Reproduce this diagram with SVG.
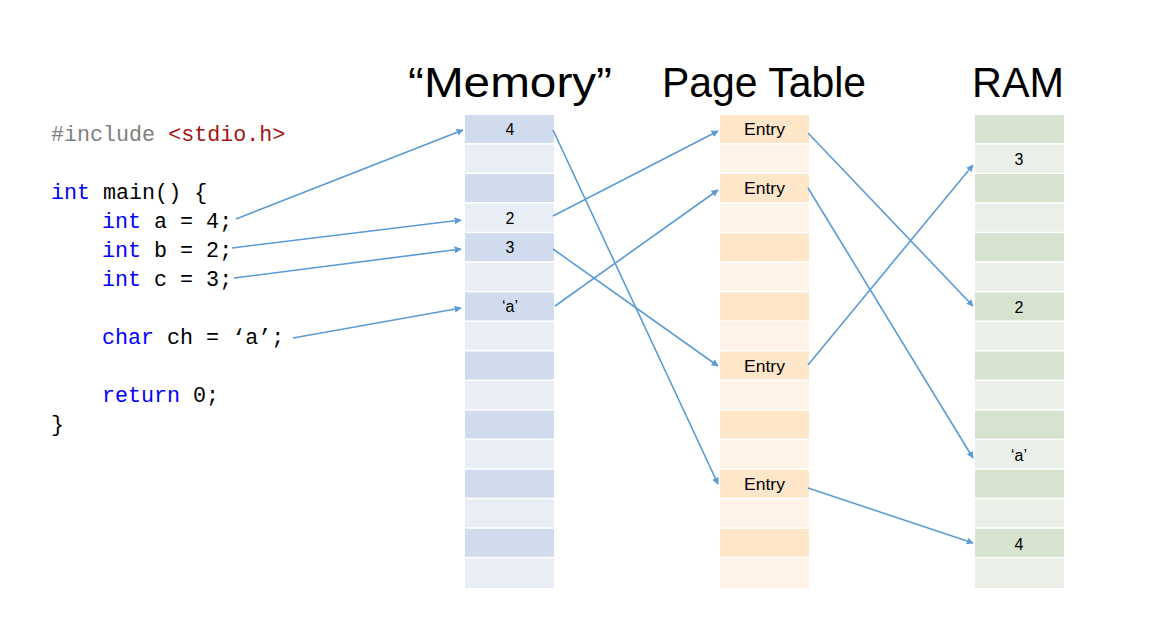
<svg xmlns="http://www.w3.org/2000/svg" width="1152" height="624" viewBox="0 0 1152 624">
<style>
.code{font-family:"Liberation Mono","DejaVu Sans Mono",monospace;font-size:21.7px;fill:#000}
.kw{fill:#0000FF}
.pp{fill:#808080}
.str{fill:#A31515}
.title{font-family:"Liberation Sans",Arial,sans-serif;font-size:43px;fill:#000;text-anchor:middle}
.lbl{font-family:"Liberation Sans",Arial,sans-serif;font-size:16px;fill:#000;text-anchor:middle}
.mD{fill:#D0DCEE}.mL{fill:#E9EEF6}
.pD{fill:#FEE6C8}.pL{fill:#FEF3E6}
.rD{fill:#D6E3CF}.rL{fill:#EAF0E7}
.conn line{stroke:#5B9BD5;stroke-width:1.6;marker-end:url(#ah)}
</style>
<defs>
<marker id="ah" viewBox="0 0 10 10" refX="9" refY="5" markerWidth="7" markerHeight="7" orient="auto" markerUnits="userSpaceOnUse">
<path d="M0,0 L10,5 L0,10 z" fill="#5B9BD5"/>
</marker>
</defs>
<rect width="1152" height="624" fill="#fff"/>

<g id="code">
<text class="code" x="51" y="141"><tspan class="pp">#include </tspan><tspan class="str">&lt;stdio.h&gt;</tspan></text>
<text class="code" x="51" y="199"><tspan class="kw">int</tspan> main() {</text>
<text class="code" x="102" y="228"><tspan class="kw">int</tspan> a = 4;</text>
<text class="code" x="102" y="257"><tspan class="kw">int</tspan> b = 2;</text>
<text class="code" x="102" y="286"><tspan class="kw">int</tspan> c = 3;</text>
<text class="code" x="102" y="344"><tspan class="kw">char</tspan> ch = ‘a’;</text>
<text class="code" x="102" y="402"><tspan class="kw">return</tspan> 0;</text>
<text class="code" x="51" y="431">}</text>
</g>

<g id="titles">
<text class="title" x="510" y="97" textLength="204" lengthAdjust="spacingAndGlyphs">“Memory”</text>
<text class="title" x="764" y="97" textLength="204" lengthAdjust="spacingAndGlyphs">Page Table</text>
<text class="title" x="1018" y="97" textLength="92" lengthAdjust="spacingAndGlyphs">RAM</text>
</g>

<g id="memory">
<rect class="mD" x="465" y="115" width="89" height="28"/>
<rect class="mL" x="465" y="144.6" width="89" height="28"/>
<rect class="mD" x="465" y="174.1" width="89" height="28"/>
<rect class="mL" x="465" y="203.7" width="89" height="28"/>
<rect class="mD" x="465" y="233.2" width="89" height="28"/>
<rect class="mL" x="465" y="262.8" width="89" height="28"/>
<rect class="mD" x="465" y="292.4" width="89" height="28"/>
<rect class="mL" x="465" y="321.9" width="89" height="28"/>
<rect class="mD" x="465" y="351.5" width="89" height="28"/>
<rect class="mL" x="465" y="381" width="89" height="28"/>
<rect class="mD" x="465" y="410.6" width="89" height="28"/>
<rect class="mL" x="465" y="440.2" width="89" height="28"/>
<rect class="mD" x="465" y="469.7" width="89" height="28"/>
<rect class="mL" x="465" y="499.3" width="89" height="28"/>
<rect class="mD" x="465" y="528.8" width="89" height="28"/>
<rect class="mL" x="465" y="558.4" width="89" height="29.6"/>
<text class="lbl" x="510" y="135">4</text>
<text class="lbl" x="510" y="224">2</text>
<text class="lbl" x="510" y="253">3</text>
<text class="lbl" x="510" y="312">‘a’</text>
</g>

<g id="pagetable">
<rect class="pD" x="720" y="115" width="89" height="28"/>
<rect class="pL" x="720" y="144.6" width="89" height="28"/>
<rect class="pD" x="720" y="174.1" width="89" height="28"/>
<rect class="pL" x="720" y="203.7" width="89" height="28"/>
<rect class="pD" x="720" y="233.2" width="89" height="28"/>
<rect class="pL" x="720" y="262.8" width="89" height="28"/>
<rect class="pD" x="720" y="292.4" width="89" height="28"/>
<rect class="pL" x="720" y="321.9" width="89" height="28"/>
<rect class="pD" x="720" y="351.5" width="89" height="28"/>
<rect class="pL" x="720" y="381" width="89" height="28"/>
<rect class="pD" x="720" y="410.6" width="89" height="28"/>
<rect class="pL" x="720" y="440.2" width="89" height="28"/>
<rect class="pD" x="720" y="469.7" width="89" height="28"/>
<rect class="pL" x="720" y="499.3" width="89" height="28"/>
<rect class="pD" x="720" y="528.8" width="89" height="28"/>
<rect class="pL" x="720" y="558.4" width="89" height="29.6"/>
<text class="lbl" x="764.5" y="135" textLength="41" lengthAdjust="spacingAndGlyphs">Entry</text>
<text class="lbl" x="764.5" y="194" textLength="41" lengthAdjust="spacingAndGlyphs">Entry</text>
<text class="lbl" x="764.5" y="372" textLength="41" lengthAdjust="spacingAndGlyphs">Entry</text>
<text class="lbl" x="764.5" y="490" textLength="41" lengthAdjust="spacingAndGlyphs">Entry</text>
</g>

<g id="ram">
<rect class="rD" x="975" y="115" width="89" height="28"/>
<rect class="rL" x="975" y="144.6" width="89" height="28"/>
<rect class="rD" x="975" y="174.1" width="89" height="28"/>
<rect class="rL" x="975" y="203.7" width="89" height="28"/>
<rect class="rD" x="975" y="233.2" width="89" height="28"/>
<rect class="rL" x="975" y="262.8" width="89" height="28"/>
<rect class="rD" x="975" y="292.4" width="89" height="28"/>
<rect class="rL" x="975" y="321.9" width="89" height="28"/>
<rect class="rD" x="975" y="351.5" width="89" height="28"/>
<rect class="rL" x="975" y="381" width="89" height="28"/>
<rect class="rD" x="975" y="410.6" width="89" height="28"/>
<rect class="rL" x="975" y="440.2" width="89" height="28"/>
<rect class="rD" x="975" y="469.7" width="89" height="28"/>
<rect class="rL" x="975" y="499.3" width="89" height="28"/>
<rect class="rD" x="975" y="528.8" width="89" height="28"/>
<rect class="rL" x="975" y="558.4" width="89" height="29.6"/>
<text class="lbl" x="1019" y="165">3</text>
<text class="lbl" x="1019" y="313">2</text>
<text class="lbl" x="1019" y="461">‘a’</text>
<text class="lbl" x="1019" y="550">4</text>
</g>

<g id="connectors" class="conn">
<line x1="236" y1="219" x2="463" y2="130"/>
<line x1="232" y1="248" x2="461" y2="220"/>
<line x1="234" y1="278" x2="461" y2="249"/>
<line x1="293" y1="338" x2="461" y2="308"/>
<line x1="553" y1="130" x2="718" y2="484"/>
<line x1="553" y1="216" x2="718" y2="131"/>
<line x1="553" y1="249" x2="718" y2="366"/>
<line x1="555" y1="306" x2="718" y2="190"/>
<line x1="808" y1="133" x2="973" y2="306"/>
<line x1="808" y1="188" x2="973" y2="458"/>
<line x1="808" y1="365" x2="973" y2="165"/>
<line x1="808" y1="488" x2="973" y2="543"/>
</g>
</svg>
